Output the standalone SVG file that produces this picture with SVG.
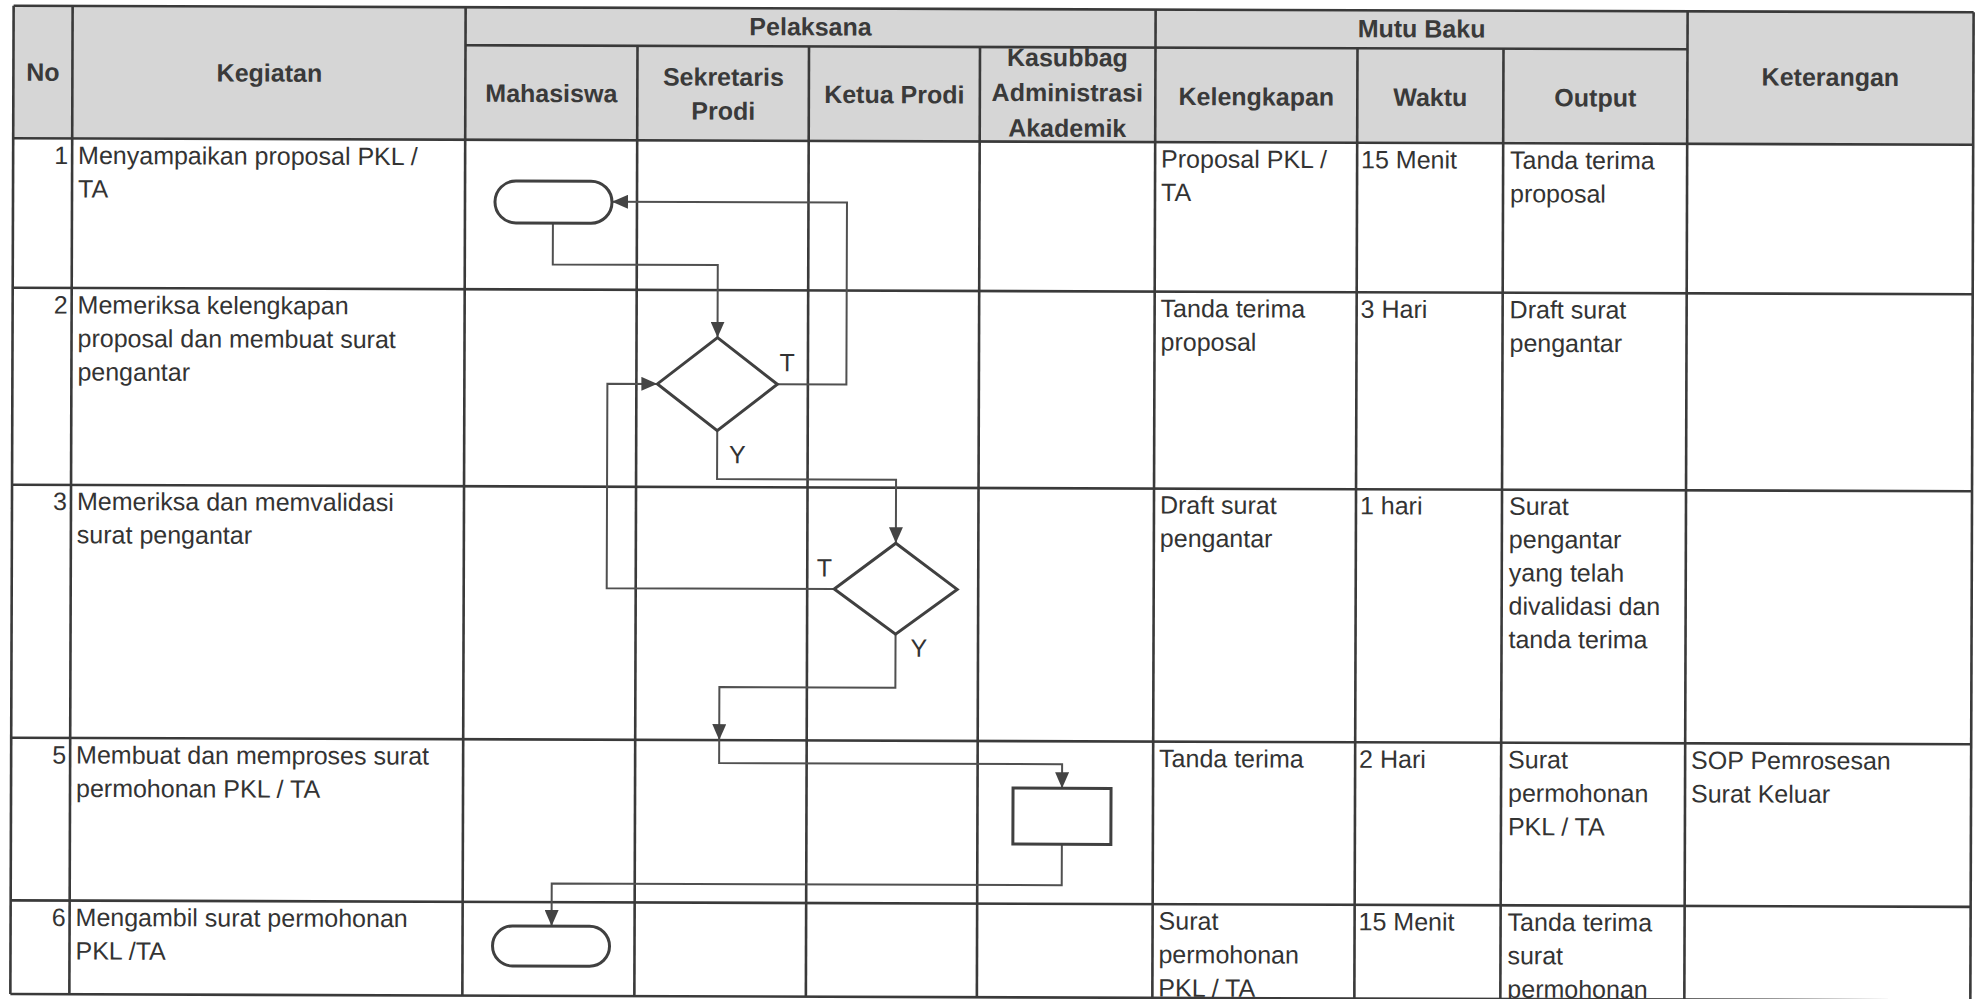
<svg xmlns="http://www.w3.org/2000/svg" width="1980" height="999" viewBox="0 0 1980 999">
<style>
  .hdr { fill: #d6d6d6; }
  .grid line { stroke: #3a3a3a; stroke-width: 2.6; }
  .th { font-family: "Liberation Sans", Arial, sans-serif; font-size: 25px; font-weight: bold; fill: #3a3a3a; text-anchor: middle; }
  .td { font-family: "Liberation Sans", Arial, sans-serif; font-size: 25px; fill: #333; }
  .num { text-anchor: end; }
  .shape { fill: #fff; stroke: #404040; stroke-width: 3; }
  .conn path { fill: none; stroke: #505050; stroke-width: 2; }
  .lbl { font-family: "Liberation Sans", Arial, sans-serif; font-size: 25px; fill: #333; }
</style>
<defs>
  <marker id="ah" viewBox="0 0 16 14" refX="16" refY="7" markerWidth="16" markerHeight="14" markerUnits="userSpaceOnUse" orient="auto">
    <path d="M0,0 L16,7 L0,14 Z" fill="#444"/>
  </marker>
</defs>
<rect width="1980" height="999" fill="#fff"/>
<g transform="rotate(0.19 990 500)">
  <g id="table">
    <rect class="hdr" x="12" y="9" width="1960" height="132.5"/>
    <g class="grid">
      <line x1="12" y1="9" x2="1972" y2="9"/>
      <line x1="464" y1="47" x2="1686" y2="47"/>
      <line x1="12" y1="141.5" x2="1972" y2="141.5"/>
      <line x1="12" y1="291" x2="1972" y2="291"/>
      <line x1="12" y1="488" x2="1972" y2="488"/>
      <line x1="12" y1="741" x2="1972" y2="741"/>
      <line x1="12" y1="903.6" x2="1972" y2="903.6"/>
      <line x1="12" y1="997.3" x2="1972" y2="997.3"/>
      <line x1="12" y1="9" x2="12" y2="997.3"/>
      <line x1="71" y1="9" x2="71" y2="997.3"/>
      <line x1="464" y1="9" x2="464" y2="997.3"/>
      <line x1="636" y1="47" x2="636" y2="997.3"/>
      <line x1="807.5" y1="47" x2="807.5" y2="997.3"/>
      <line x1="978.5" y1="47" x2="978.5" y2="997.3"/>
      <line x1="1154" y1="9" x2="1154" y2="997.3"/>
      <line x1="1356" y1="47" x2="1356" y2="997.3"/>
      <line x1="1502" y1="47" x2="1502" y2="997.3"/>
      <line x1="1686" y1="9" x2="1686" y2="997.3"/>
      <line x1="1972" y1="9" x2="1972" y2="997.3"/>
    </g>
    <g id="header-text">
      <text class="th" x="41.5" y="84">No</text>
      <text class="th" x="268" y="84">Kegiatan</text>
      <text class="th" x="809" y="36">Pelaksana</text>
      <text class="th" x="1420" y="36">Mutu Baku</text>
      <text class="th" x="1829" y="83">Keterangan</text>
      <text class="th" x="550" y="103.5">Mahasiswa</text>
      <text class="th" x="722" y="86.5">Sekretaris</text>
      <text class="th" x="722" y="120.5">Prodi</text>
      <text class="th" x="893" y="103.5">Ketua Prodi</text>
      <text class="th" x="1066" y="66">Kasubbag</text>
      <text class="th" x="1066" y="101">Administrasi</text>
      <text class="th" x="1066" y="136.5">Akademik</text>
      <text class="th" x="1255" y="104.5">Kelengkapan</text>
      <text class="th" x="1429" y="104.5">Waktu</text>
      <text class="th" x="1594" y="104.5">Output</text>
    </g>
    <g id="row1">
      <text class="td num" x="67" y="167">1</text>
      <text class="td" x="77" y="167">Menyampaikan proposal PKL /</text>
      <text class="td" x="77" y="200.5">TA</text>
      <text class="td" x="1160" y="167">Proposal PKL /</text>
      <text class="td" x="1160" y="200.5">TA</text>
      <text class="td" x="1360" y="167">15 Menit</text>
      <text class="td" x="1509" y="167">Tanda terima</text>
      <text class="td" x="1509" y="200.5">proposal</text>
    </g>
    <g id="row2">
      <text class="td num" x="67" y="316.5">2</text>
      <text class="td" x="77" y="316.5">Memeriksa kelengkapan</text>
      <text class="td" x="77" y="350">proposal dan membuat surat</text>
      <text class="td" x="77" y="383.5">pengantar</text>
      <text class="td" x="1160" y="316.5">Tanda terima</text>
      <text class="td" x="1160" y="350">proposal</text>
      <text class="td" x="1360" y="316.5">3 Hari</text>
      <text class="td" x="1509" y="316.5">Draft surat</text>
      <text class="td" x="1509" y="350">pengantar</text>
    </g>
    <g id="row3">
      <text class="td num" x="67" y="513">3</text>
      <text class="td" x="77" y="513">Memeriksa dan memvalidasi</text>
      <text class="td" x="77" y="546.3">surat pengantar</text>
      <text class="td" x="1160" y="513">Draft surat</text>
      <text class="td" x="1160" y="546.3">pengantar</text>
      <text class="td" x="1360" y="513">1 hari</text>
      <text class="td" x="1509" y="513">Surat</text>
      <text class="td" x="1509" y="546.3">pengantar</text>
      <text class="td" x="1509" y="579.6">yang telah</text>
      <text class="td" x="1509" y="612.9">divalidasi dan</text>
      <text class="td" x="1509" y="646.2">tanda terima</text>
    </g>
    <g id="row5">
      <text class="td num" x="67" y="766.5">5</text>
      <text class="td" x="77" y="766.5">Membuat dan memproses surat</text>
      <text class="td" x="77" y="800">permohonan PKL / TA</text>
      <text class="td" x="1160" y="766.5">Tanda terima</text>
      <text class="td" x="1360" y="766.5">2 Hari</text>
      <text class="td" x="1509" y="766.5">Surat</text>
      <text class="td" x="1509" y="800">permohonan</text>
      <text class="td" x="1509" y="833.5">PKL / TA</text>
      <text class="td" x="1692" y="766.5">SOP Pemrosesan</text>
      <text class="td" x="1692" y="800">Surat Keluar</text>
    </g>
    <g id="row6">
      <text class="td num" x="67" y="929">6</text>
      <text class="td" x="77" y="929">Mengambil surat permohonan</text>
      <text class="td" x="77" y="962.5">PKL /TA</text>
      <text class="td" x="1160" y="929">Surat</text>
      <text class="td" x="1160" y="962.5">permohonan</text>
      <text class="td" x="1160" y="996">PKL / TA</text>
      <text class="td" x="1360" y="929">15 Menit</text>
      <text class="td" x="1509" y="929">Tanda terima</text>
      <text class="td" x="1509" y="962.5">surat</text>
      <text class="td" x="1509" y="996">permohonan</text>
    </g>
  </g>
  <g id="connectors" class="conn">
    <path d="M552,224.5 V266 H717 V338.5" marker-end="url(#ah)"/>
    <path d="M777,385 H846 V203 H611" marker-end="url(#ah)"/>
    <path d="M717,431.5 V480 H896 V543.5" marker-end="url(#ah)"/>
    <path d="M834.5,589.5 H607 V385 H657" marker-end="url(#ah)"/>
    <path d="M896,634.5 V688 H720 V741" marker-end="url(#ah)"/>
    <path d="M720,741 V764 H1063 V788" marker-end="url(#ah)"/>
    <path d="M1063,844 V885 H553 V927.5" marker-end="url(#ah)"/>
    <text class="lbl" x="779" y="372">T</text>
    <text class="lbl" x="729" y="464">Y</text>
    <text class="lbl" x="817" y="577">T</text>
    <text class="lbl" x="911" y="657">Y</text>
  </g>
  <g id="term1"><rect class="shape" x="494" y="182.5" width="117" height="42" rx="21" ry="21"/></g>
  <g id="dec1"><polygon class="shape" points="717,338.5 777,385 717,431.5 657,385"/></g>
  <g id="dec2"><polygon class="shape" points="896,543.5 957.5,589.5 896,634.5 834.5,589.5"/></g>
  <g id="proc1"><rect class="shape" x="1014" y="788" width="98" height="56"/></g>
  <g id="term2"><rect class="shape" x="494" y="927.5" width="117" height="40" rx="20" ry="20"/></g>
</g>
</svg>
